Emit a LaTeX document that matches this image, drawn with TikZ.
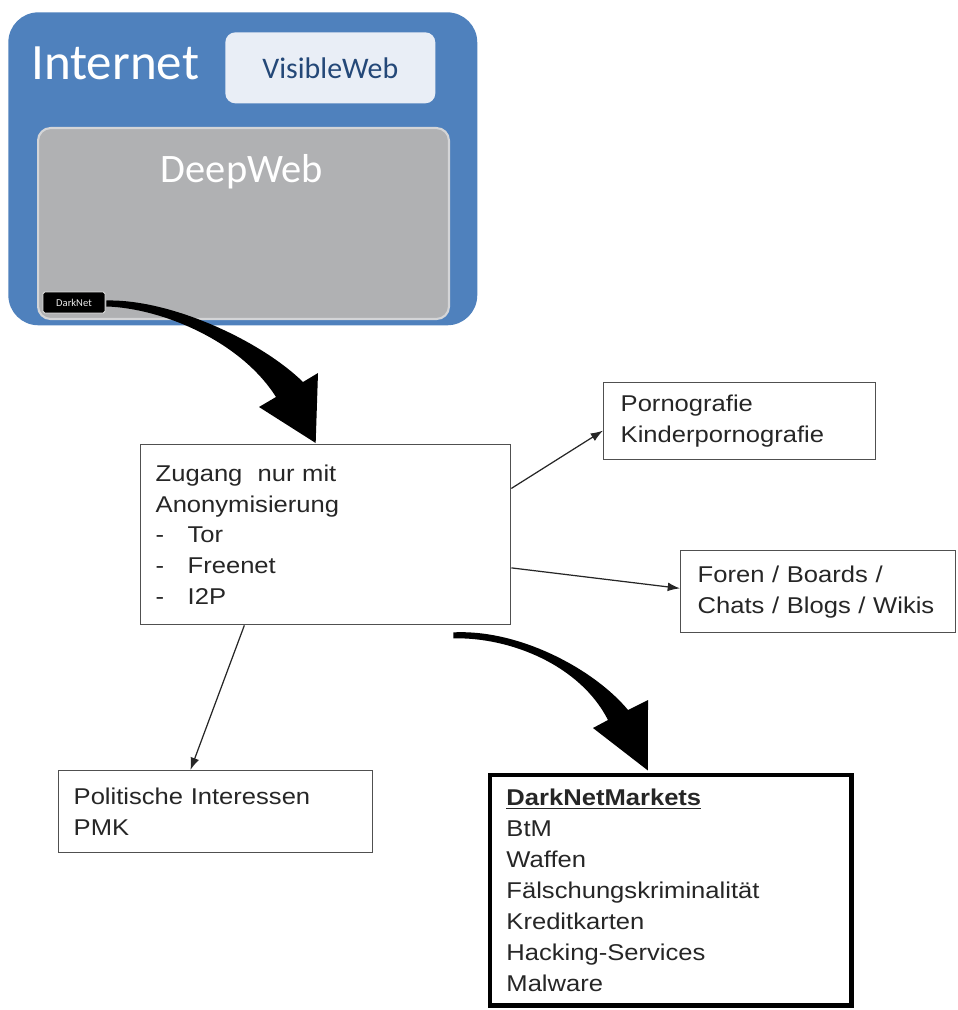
\documentclass[tikz,border=0pt]{standalone}
\usepackage{fontspec}
\setmainfont{Liberation Sans}[FakeStretch=1.12]
\newfontfamily\calibri{Carlito}
\usepackage{tikz}
\usetikzlibrary{arrows.meta}
\usetikzlibrary{calc}
\usetikzlibrary{positioning}

\definecolor{inetblue}{RGB}{79,129,189}
\definecolor{visfill}{RGB}{233,238,246}
\definecolor{visblue}{RGB}{36,72,120}
\definecolor{deepgray}{RGB}{176,177,179}
\definecolor{deepline}{RGB}{212,213,215}
\definecolor{boxgray}{RGB}{80,80,80}
\definecolor{textgray}{RGB}{38,38,38}

\tikzset{
  infobox/.style={draw=boxgray, line width=0.8pt, anchor=north west, align=left,
    inner ysep=0pt, text=textgray, font=\fontsize{13}{17.6}\selectfont},
  thinarrow/.style={-{Latex[length=7pt,width=5pt]}, line width=0.7pt, draw=textgray},
  bigarrow/.style={fill=black},
}

\begin{document}
\begin{tikzpicture}[x=0.02cm,y=-0.02cm]
    \useasboundingbox (0,0) rectangle (957,1010);
    % internet block
    \node[fill=inetblue, rounded corners=0.6cm, minimum width=9.38cm, minimum height=6.26cm, anchor=north west] (internet) at (8,12) {};
    \node[anchor=base west, inner sep=0, text=white, font=\calibri\fontsize{29}{30}\selectfont] (inettitle) at (31,80) {Internet};
    \node[fill=visfill, rounded corners=0.2cm, minimum width=4.2cm, minimum height=1.42cm, anchor=north west, text=visblue, font=\calibri\fontsize{17}{18}\selectfont] (visible) at (225,32) {VisibleWeb};
    \node[fill=deepgray, draw=deepline, line width=1.2pt, rounded corners=0.25cm, minimum width=8.22cm, minimum height=3.82cm, anchor=north west] (deepweb) at (37,127) {};
    \node[anchor=base, inner sep=0, text=white, font=\calibri\fontsize{23}{24}\selectfont] (deeptitle) at (242,183) {DeepWeb};
    \node[fill=black, draw=white!75!gray, line width=0.5pt, rounded corners=1pt, minimum width=1.24cm, minimum height=0.42cm, inner sep=0, text=white!85!gray, font=\calibri\fontsize{6}{7}\selectfont] (darknet) at (74,302.5) {DarkNet};

    % boxes
    \node[infobox, minimum height=3.6cm, inner xsep=0.3cm, text width=6.8cm] (zugang) at (140,444)
      {Zugang\ \ nur mit\\Anonymisierung\\\makebox[0.64cm][l]{-}Tor\\\makebox[0.64cm][l]{-}Freenet\\\makebox[0.64cm][l]{-}I2P};
    \node[infobox, minimum height=1.54cm, inner xsep=0.34cm, text width=4.76cm] (porno) at (603,382)
      {Pornografie\\Kinderpornografie};
    \node[infobox, minimum height=1.64cm, inner xsep=0.34cm, text width=4.82cm] (foren) at (680,550)
      {Foren / Boards /\\Chats / Blogs / Wikis};
    \node[infobox, minimum height=1.64cm, inner xsep=0.3cm, text width=5.68cm] (politik) at (58,770)
      {Politische Interessen\\PMK};
    \node[infobox, draw=black, line width=2.8pt, minimum height=4.62cm, inner xsep=0.33cm, text width=6.58cm] (markets) at (487.5,772.5)
      {\underline{\textbf{DarkNetMarkets}}\\BtM\\Waffen\\Fälschungskriminalität\\Kreditkarten\\Hacking-Services\\Malware};

    % thin arrows
    \draw[thinarrow] ($(zugang.north east)!.245!(zugang.south east)$) -- ($(porno.north west)!.62!(porno.south west)$);
    \draw[thinarrow] ($(zugang.north east)!.683!(zugang.south east)$) -- ($(foren.north west)!.46!(foren.south west)$);
    \draw[thinarrow] ($(zugang.south west)!.281!(zugang.south east)$) -- ($(politik.north west)!.42!(politik.north east)$);

    % big curved arrows
    \coordinate (a1s) at (darknet.east);
    \coordinate (a1t) at ($(zugang.north)+(-10,-1)$);
    \fill[bigarrow] ($(a1s)+(1,-2)$) .. controls (170,299) and (260,340) .. (303,382) -- (318,373) -- (a1t)
      -- (259,407) -- (276,397) .. controls (240,340) and (160,308) .. ($(a1s)+(1,4)$) -- cycle;
    \coordinate (a2s) at ($(zugang.south east)+(-58,10)$);
    \coordinate (a2t) at ($(markets.north)+(-23,-2)$);
    \fill[bigarrow] ($(a2s)+(0,-3)$) .. controls (520,629) and (595,670) .. (628,710) -- (648,700) -- (a2t)
      -- (593,728) -- (608,720) .. controls (580,665) and (510,637) .. ($(a2s)+(0,3)$) -- cycle;
\end{tikzpicture}
\end{document}
